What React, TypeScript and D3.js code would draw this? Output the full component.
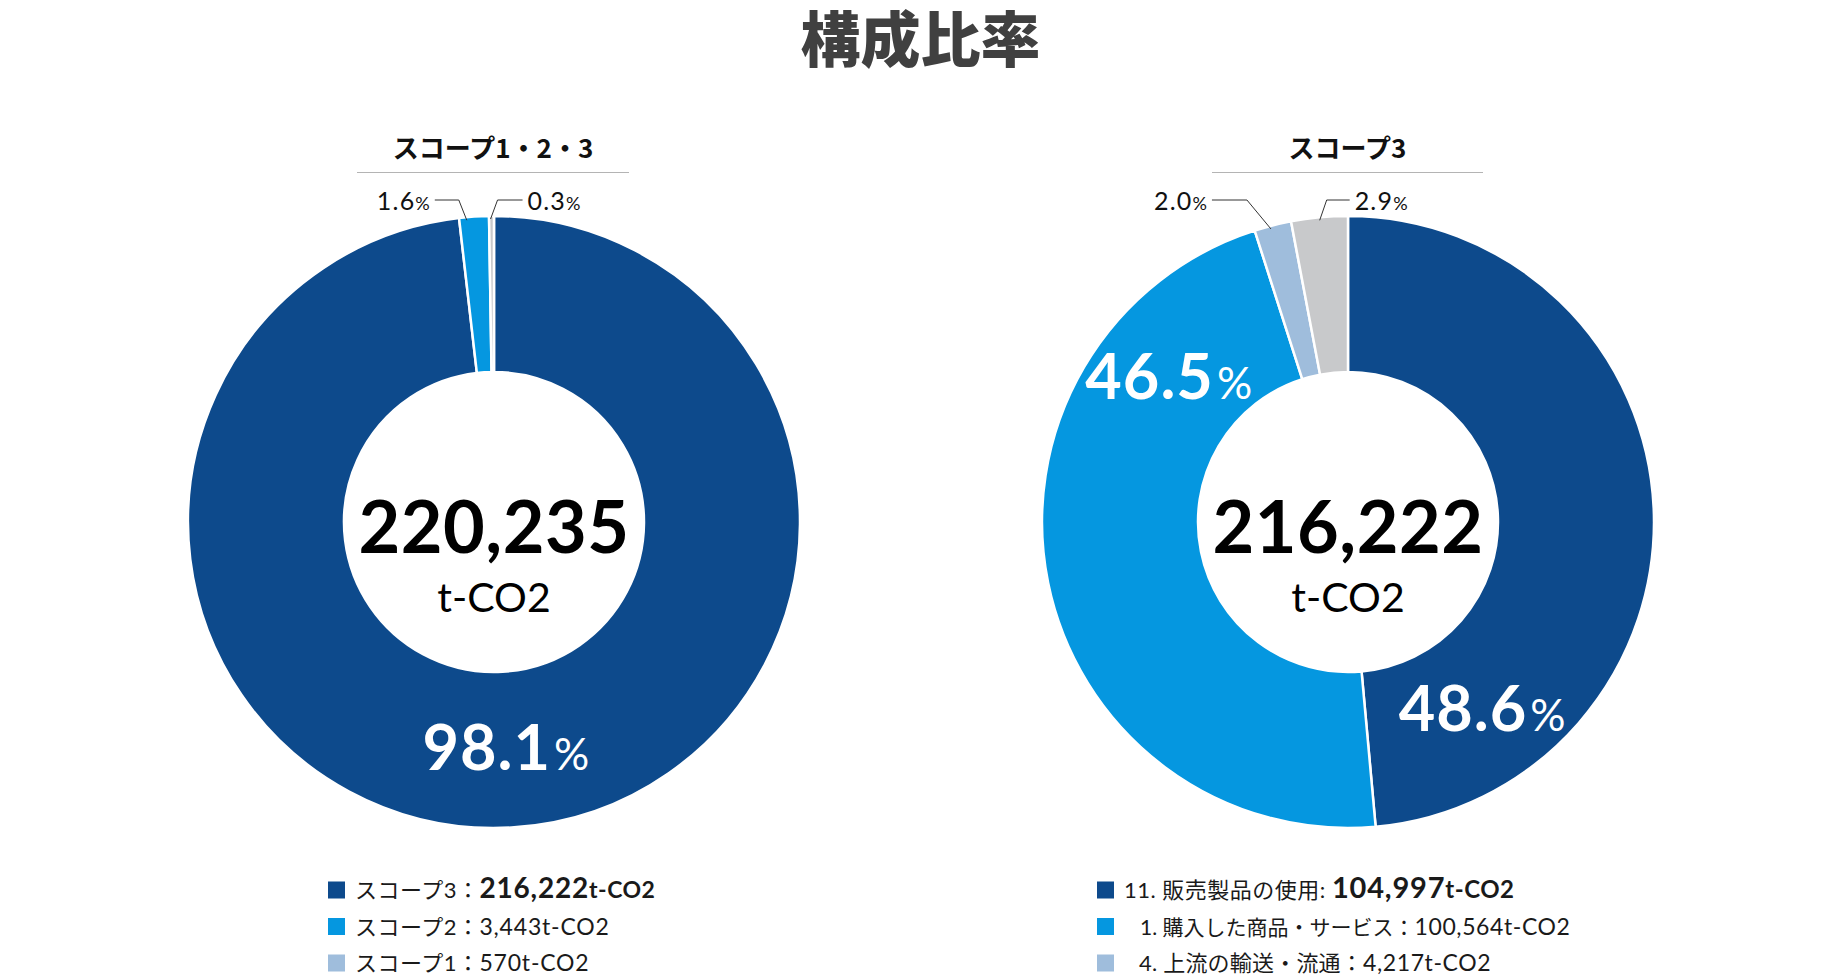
import React from "react";
import * as d3 from "d3";

// ---------- data ----------
const scope123Names = ["スコープ3", "スコープ2", "スコープ1"];
const scope123Values = [216222, 3443, 570];
const scope123Pct = ["98.1", "1.6", "0.3"];
const scope123Total = "220,235";

const scope3Names = ["11. 販売製品の使用", "1. 購入した商品・サービス", "4. 上流の輸送・流通", "その他"];
const scope3Values = [104997, 100564, 4217, 6444];
const scope3Pct = ["48.6", "46.5", "2.0", "2.9"];
const scope3Total = "216,222";

const titleText = "構成比率";
const unitText = "t-CO2";

// ---------- style ----------
const W = 1841;
const H = 980;
const DARK = "#0d4a8c";
const BLUE = "#0597e0";
const LIGHT = "#9fbddc";
const GREY = "#c8c9cb";
const FONT = "Lato, 'Noto Sans CJK JP', sans-serif";
const JFONT = "'Noto Sans CJK JP', Lato, sans-serif";

const OUTER = 306;
const INNER = 150;
const CY = 522;

type BigLabel = { i: number; angle: number; r: number };
type SmallLabel = { i: number; frac: number; side: "left" | "right"; elbowDx: number; hLen: number };
type Part = { t: string; size: number; weight: number; ls?: number };

interface ChartCfg {
  cx: number;
  subtitle: string;
  values: number[];
  pct: string[];
  total: string;
  colors: string[];
  big: BigLabel[];
  small: SmallLabel[];
  lineX: [number, number];
  legendX: number;
  legend: { parts: Part[]; indent: number; color: string }[];
}

const fmt = d3.format(",");

const charts: ChartCfg[] = [
  {
    cx: 494,
    subtitle: "スコープ1・2・3",
    values: scope123Values,
    pct: scope123Pct,
    total: scope123Total,
    colors: [DARK, BLUE, GREY],
    big: [{ i: 0, angle: 177, r: 227 }],
    small: [
      { i: 1, frac: 0.25, side: "left", elbowDx: -8, hLen: 24 },
      { i: 2, frac: 0.3, side: "right", elbowDx: 7, hLen: 25 },
    ],
    lineX: [357, 629],
    legendX: 328,
    legend: [
      {
        parts: [
          { t: scope123Names[0] + "：", size: 22, weight: 400, ls: 0.5 },
          { t: fmt(scope123Values[0]), size: 28, weight: 700, ls: 0.8 },
          { t: unitText, size: 23, weight: 700, ls: 0.5 },
        ],
        indent: 0,
        color: DARK,
      },
      {
        parts: [
          { t: scope123Names[1] + "：", size: 22, weight: 400, ls: 0.5 },
          { t: fmt(scope123Values[1]) + unitText, size: 23, weight: 400, ls: 0.8 },
        ],
        indent: 0,
        color: BLUE,
      },
      {
        parts: [
          { t: scope123Names[2] + "：", size: 22, weight: 400, ls: 0.5 },
          { t: fmt(scope123Values[2]) + unitText, size: 23, weight: 400, ls: 0.8 },
        ],
        indent: 0,
        color: LIGHT,
      },
    ],
  },
  {
    cx: 1348,
    subtitle: "スコープ3",
    values: scope3Values,
    pct: scope3Pct,
    total: scope3Total,
    colors: [DARK, BLUE, LIGHT, GREY],
    big: [
      { i: 0, angle: 144.5, r: 231 },
      { i: 1, angle: 308.8, r: 230 },
    ],
    small: [
      { i: 2, frac: 0.43, side: "left", elbowDx: -24, hLen: 35 },
      { i: 3, frac: 0.5, side: "right", elbowDx: 7, hLen: 23 },
    ],
    lineX: [1212, 1483],
    legendX: 1097,
    legend: [
      {
        parts: [
          { t: scope3Names[0] + ": ", size: 22, weight: 400, ls: 0.5 },
          { t: fmt(scope3Values[0]), size: 29, weight: 700, ls: 0.8 },
          { t: unitText, size: 24, weight: 700, ls: 0.5 },
        ],
        indent: 0,
        color: DARK,
      },
      {
        parts: [
          { t: scope3Names[1] + "：", size: 21, weight: 400, ls: 0 },
          { t: fmt(scope3Values[1]) + unitText, size: 23, weight: 400, ls: 0.6 },
        ],
        indent: 16,
        color: BLUE,
      },
      {
        parts: [
          { t: scope3Names[2] + "：", size: 22, weight: 400, ls: 0.2 },
          { t: fmt(scope3Values[2]) + unitText, size: 23, weight: 400, ls: 0.6 },
        ],
        indent: 15,
        color: LIGHT,
      },
    ],
  },
];

const rad = (deg: number) => (deg * Math.PI) / 180;

function Donut({ c }: { c: ChartCfg }) {
  const pie = d3
    .pie<number>()
    .sort(null)
    .value((d) => d)
    .startAngle(0)
    .endAngle(2 * Math.PI);
  const arcs = pie(c.values);
  const arc = d3.arc<d3.PieArcDatum<number>>().innerRadius(INNER).outerRadius(OUTER);

  const polar = (a: number, r: number) => [c.cx + r * Math.sin(a), CY - r * Math.cos(a)];

  const legendRowY = d3.scaleLinear().domain([0, 1]).range([890, 926.5]);

  return (
    <g>
      {/* subtitle */}
      <text
        x={(c.lineX[0] + c.lineX[1]) / 2}
        y={146}
        textAnchor="middle"
        dominantBaseline="central"
        fontFamily={JFONT}
        fontWeight={700}
        fontSize={26}
        fill="#111"
      >
        {c.subtitle}
      </text>
      <line x1={c.lineX[0]} x2={c.lineX[1]} y1={172.5} y2={172.5} stroke="#b4b4b4" strokeWidth={1.2} />

      {/* slices */}
      <g transform={`translate(${c.cx},${CY})`}>
        {arcs.map((a, i) => (
          <path key={i} d={arc(a) || ""} fill={c.colors[i]} stroke="#fff" strokeWidth={2.5} strokeLinejoin="miter" />
        ))}
      </g>

      {/* center */}
      <text x={c.cx} y={CY + 31} textAnchor="middle" fontFamily={FONT} fontWeight={700} fontSize={72} letterSpacing={0.5} fill="#000">
        {c.total}
      </text>
      <text x={c.cx} y={CY + 90} textAnchor="middle" fontFamily={FONT} fontWeight={400} fontSize={41} fill="#000">
        {unitText}
      </text>

      {/* big labels */}
      {c.big.map((b, k) => {
        const [x, y] = polar(rad(b.angle), b.r);
        return (
          <text key={k} x={x} y={y + 21} textAnchor="middle" fontFamily={FONT} fill="#fff">
            <tspan fontSize={63} fontWeight={700} letterSpacing={1}>
              {c.pct[b.i]}
            </tspan>
            <tspan fontSize={44} fontWeight={400} dx={3}>
              %
            </tspan>
          </text>
        );
      })}

      {/* small labels with leader lines */}
      {c.small.map((s, k) => {
        const a = arcs[s.i];
        const ang = a.startAngle + s.frac * (a.endAngle - a.startAngle);
        const [ex, ey] = polar(ang, OUTER - 3);
        const elY = 200;
        const elX = ex + s.elbowDx;
        const sx = s.side === "left" ? elX - s.hLen : elX + s.hLen;
        const tx = s.side === "left" ? sx - 5 : sx + 5;
        return (
          <g key={k}>
            <polyline points={`${sx},${elY} ${elX},${elY} ${ex},${ey}`} fill="none" stroke="#333" strokeWidth={1} />
            <text
              x={tx}
              y={elY + 10}
              textAnchor={s.side === "left" ? "end" : "start"}
              fontFamily={FONT}
              fill="#111"
            >
              <tspan fontSize={25} fontWeight={400} letterSpacing={1.2}>
                {c.pct[s.i]}
              </tspan>
              <tspan fontSize={18} fontWeight={400}>
                %
              </tspan>
            </text>
          </g>
        );
      })}

      {/* legend */}
      {c.legend.map((row, i) => {
        const cy = legendRowY(i);
        return (
          <g key={i}>
            <rect x={c.legendX} y={cy - 8.5} width={17} height={17} fill={row.color} />
            <text x={c.legendX + 27 + row.indent} y={cy + 8} fontFamily={FONT} fill="#1a1a1a">
              {row.parts.map((p, j) => (
                <tspan key={j} fontSize={p.size} fontWeight={p.weight} letterSpacing={p.ls || 0}>
                  {p.t}
                </tspan>
              ))}
            </text>
          </g>
        );
      })}
    </g>
  );
}

export default function App() {
  return (
    <svg
      width={W}
      height={H}
      viewBox={`0 0 ${W} ${H}`}
      style={{ position: "fixed", left: 0, top: 0, background: "#fff" }}
    >
      <rect x={0} y={0} width={W} height={H} fill="#fff" />
      <text
        x={W / 2}
        y={62}
        textAnchor="middle"
        fontFamily={JFONT}
        fontWeight={900}
        fontSize={60}
        fill="#404040"
      >
        {titleText}
      </text>
      {charts.map((c, i) => (
        <Donut key={i} c={c} />
      ))}
    </svg>
  );
}
